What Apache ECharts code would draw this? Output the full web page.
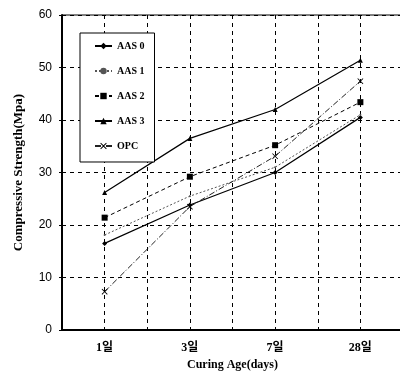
<!DOCTYPE html>
<html><head><meta charset="utf-8">
<script src="https://cdn.jsdelivr.net/npm/echarts@6/dist/echarts.min.js"></script>
<style>html,body{margin:0;padding:0;background:#fff;overflow:hidden;width:400px;height:380px}#c{width:406px;height:380px}</style>
</head><body><div id="c"></div>
<script>
const categories = ['1일', '3일', '7일', '28일'];
const aas0 = [16.5, 23.8, 30.0, 40.5];
const aas1 = [18.1, 25.5, 31.0, 41.0];
const aas2 = [21.4, 29.2, 35.2, 43.4];
const aas3 = [26.2, 36.5, 42.0, 51.4];
const opc  = [7.3, 23.5, 33.1, 47.4];
const yTicks = [0, 10, 20, 30, 40, 50, 60];

const catPos = i => 2 * i + 1; // category index -> axis slot
const toData = arr => arr.map((v, i) => [catPos(i), v]);
const labelMap = {};
categories.forEach((c, i) => { labelMap[catPos(i)] = c; });

const serif = "'Liberation Serif','Noto Sans CJK KR',serif";
const xMark = 'path://M0,1L1,0L5,4L9,0L10,1L6,5L10,9L9,10L5,6L1,10L0,9L4,5Z';
const chart = echarts.init(document.getElementById('c'));
chart.setOption({
  animation: false,
  backgroundColor: '#fff',
  grid: { left: 62, top: 15, right: 0, bottom: 50, show: true, borderColor: '#000', borderWidth: 1 },
  legend: {
    orient: 'vertical', left: 80, top: 33,
    backgroundColor: '#fff', borderColor: '#000', borderWidth: 1,
    padding: [8, 10, 11, 14], itemWidth: 17, itemHeight: 8, itemGap: 15, itemTextGap: 3,
    textStyle: { fontFamily: serif, fontWeight: 'bold', fontSize: 10, color: '#000' },
    data: ['AAS 0', 'AAS 1', 'AAS 2', 'AAS 3', 'OPC']
  },
  xAxis: {
    type: 'value', min: 0, max: 8, interval: 1,
    name: 'Curing Age(days)', nameLocation: 'middle', nameGap: 25,
    nameTextStyle: { fontFamily: serif, fontWeight: 'bold', fontSize: 12, color: '#000' },
    axisLine: { lineStyle: { color: '#000', width: 2 } },
    axisTick: { inside: true, length: 3, lineStyle: { color: '#000' } },
    axisLabel: { margin: 12, fontFamily: serif, fontWeight: 'bold', fontSize: 12, color: '#000',
      formatter: v => labelMap[v] || '' },
    splitLine: { show: true, lineStyle: { color: '#000', type: [4, 4], width: 1 } }
  },
  yAxis: {
    type: 'value', min: yTicks[0], max: yTicks[yTicks.length - 1], interval: 10,
    name: 'Compressive Strength(Mpa)', nameLocation: 'middle', nameGap: 37,
    nameTextStyle: { fontFamily: serif, fontWeight: 'bold', fontSize: 13, color: '#000' },
    axisLine: { show: true, lineStyle: { color: '#000', width: 2 } },
    axisTick: { show: true, length: 3, lineStyle: { color: '#000' } },
    axisLabel: { margin: 10, fontFamily: "'Liberation Sans',Arial,sans-serif", fontSize: 12, color: '#000' },
    splitLine: { show: true, lineStyle: { color: '#000', type: [4, 4], width: 1 } }
  },
  series: [
    { name: 'AAS 0', type: 'line', data: toData(aas0), symbol: 'diamond', symbolSize: 5,
      lineStyle: { color: '#000', width: 1.2 }, itemStyle: { color: '#000' } },
    { name: 'AAS 1', type: 'line', data: toData(aas1), symbol: 'circle', symbolSize: 2,
      lineStyle: { color: '#555', width: 1, type: [2, 2] }, itemStyle: { color: '#555' } },
    { name: 'AAS 2', type: 'line', data: toData(aas2), symbol: 'rect', symbolSize: 6,
      lineStyle: { color: '#000', width: 1, type: [4, 3] }, itemStyle: { color: '#000' } },
    { name: 'AAS 3', type: 'line', data: toData(aas3), symbol: 'triangle', symbolSize: 5,
      lineStyle: { color: '#000', width: 1.2 }, itemStyle: { color: '#000' } },
    { name: 'OPC', type: 'line', data: toData(opc), symbol: xMark, symbolSize: 6,
      lineStyle: { color: '#222', width: 1, type: [6, 2, 1, 2] },
      itemStyle: { color: '#000' } }
  ]
});
</script></body></html>
